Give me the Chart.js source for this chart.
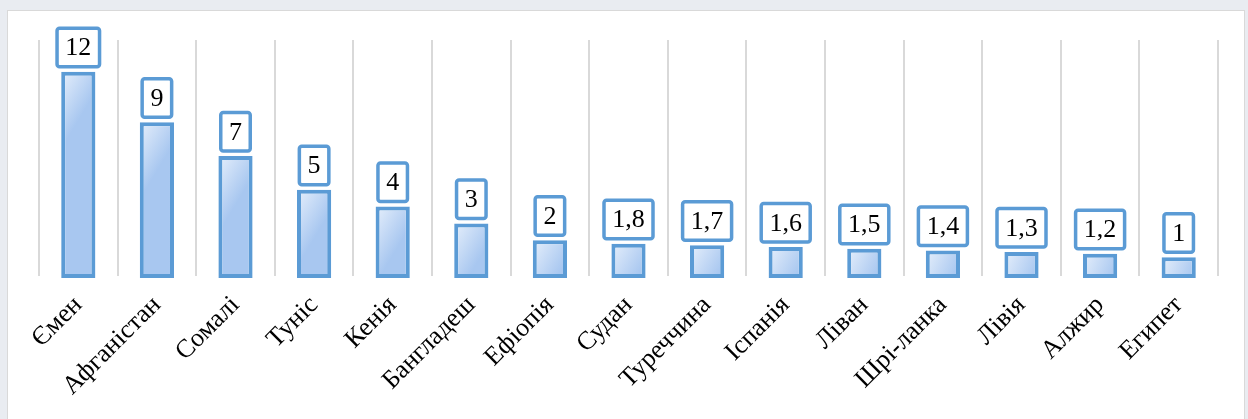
<!DOCTYPE html>
<html><head><meta charset="utf-8">
<script src="https://cdn.jsdelivr.net/npm/chart.js@4"></script>
<style>
html,body{margin:0;padding:0;width:1248px;height:419px;overflow:hidden;background:#e9ecf1;}
#panel{position:absolute;left:7px;top:10px;width:1238px;height:420px;background:#fff;border:1px solid #d9d9d9;box-sizing:border-box;}
#pre{position:absolute;left:20px;top:380px;font-family:'Liberation Serif';font-size:26px;color:#fff;white-space:nowrap;}
#wrap{position:absolute;left:0;top:0;width:1248px;height:419px;}
</style></head>
<body>
<div id="panel"></div>
<div id="pre">Ємен Афганістан 1,2</div>
<div id="wrap"><canvas id="c" width="1248" height="419"></canvas></div>
<script>
const categories = ["Ємен","Афганістан","Сомалі","Туніс","Кенія","Бангладеш","Ефіопія","Судан","Туреччина","Іспанія","Ліван","Шрі-ланка","Лівія","Алжир","Египет"];
const values = [12,9,7,5,4,3,2,1.8,1.7,1.6,1.5,1.4,1.3,1.2,1];
const yMin = 0, yMax = 14;

const FAMILY = "'Liberation Serif'";
const fmt = v => String(v).replace('.', ',');
const BORDER = 4;

const barStyle = {
  id:'barStyle',
  afterDatasetsUpdate(chart){
    const c = chart.ctx;
    const meta = chart.getDatasetMeta(0);
    meta.data.forEach(el=>{
      el.y -= BORDER/2;
      el.base += BORDER/2;
      el.height = el.base - el.y;
      const w = el.width;
      const g = c.createLinearGradient(el.x - w/2, el.y, el.x + w/2, el.y + Math.min(w, el.base - el.y) * 0.6);
      g.addColorStop(0, '#e6effb');
      g.addColorStop(1, '#a8c7f0');
      el.options.backgroundColor = g;
    });
  }
};

const labelBoxes = {
  id:'labelBoxes',
  afterDatasetsDraw(chart){
    const c = chart.ctx;
    const meta = chart.getDatasetMeta(0);
    c.save();
    c.font = "26px " + FAMILY;
    c.textAlign = 'center';
    c.textBaseline = 'middle';
    meta.data.forEach((el,i)=>{
      const txt = fmt(values[i]);
      const tw = c.measureText(txt).width;
      const bw = tw + 16.5;
      const bh = 38.5;
      const x = el.x;
      const bottom = el.y - 5;
      const top = bottom - bh;
      c.beginPath();
      if (c.roundRect) c.roundRect(x - bw/2, top, bw, bh, 2.5); else c.rect(x - bw/2, top, bw, bh);
      c.fillStyle = '#ffffff';
      c.fill();
      c.lineWidth = 3.5;
      c.strokeStyle = '#5b9bd5';
      c.stroke();
      c.fillStyle = '#000';
      c.fillText(txt, x, top + bh/2 + 1);
    });
    c.restore();
  }
};

function draw(){
  const ctx = document.getElementById('c').getContext('2d');
  new Chart(ctx, {
    type:'bar',
    data:{
      labels: categories,
      datasets:[{
        data: values,
        backgroundColor: () => '#c5d9f4',
        borderColor:'#5b9bd5',
        borderWidth: BORDER,
        borderSkipped:false,
        barPercentage:0.435,
        categoryPercentage:1,
        clip:false
      }]
    },
    options:{
      responsive:false,
      animation:false,
      events:[],
      layout:{padding:{left:39,right:30,top:40,bottom:0}},
      plugins:{legend:{display:false},tooltip:{enabled:false},title:{display:false}},
      scales:{
        x:{
          offset:true,
          grid:{display:true, offset:true, color:'#d9d9d9', lineWidth:2, drawTicks:false},
          border:{display:false},
          ticks:{
            color:'#000',
            font:{family:FAMILY, size:26},
            minRotation:45, maxRotation:45,
            padding:14,
            autoSkip:false
          },
          afterFit(scale){ scale.height = 419 - 276; }
        },
        y:{ display:false, min:yMin, max:yMax }
      }
    },
    plugins:[barStyle, labelBoxes]
  });
}
document.fonts.load("26px 'Liberation Serif'", "Ємен12").then(()=>document.fonts.ready).then(()=>requestAnimationFrame(draw), draw);
</script>
</body></html>
